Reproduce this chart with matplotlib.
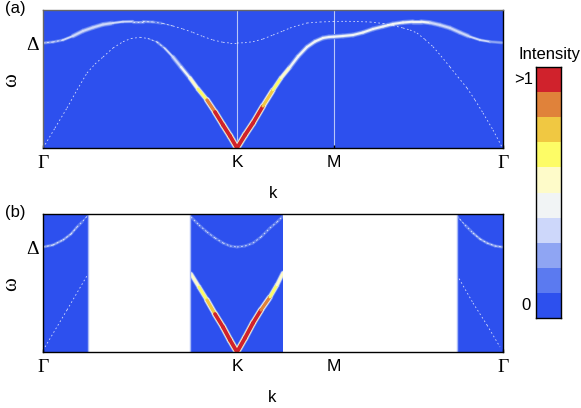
import matplotlib
matplotlib.use("Agg")
import matplotlib.pyplot as plt
import numpy as np
from matplotlib.collections import LineCollection
from matplotlib.colors import ListedColormap, BoundaryNorm

plt.rcParams['font.family'] = ['Liberation Sans', 'DejaVu Sans']

level_colors = ['#2d50ee', '#5b7af0', '#8fa5f3', '#cdd7fa', '#f1f4f5',
                '#fefbc9', '#fdfc66', '#f0c842', '#e0823a', '#d0222c']
tick_names = ['Γ', 'K', 'M', 'Γ']
tick_pos = [0, 194, 291, 460]
gap_delta = 105

# panel (a), k and w
a_up_k = [0, 10, 20, 30, 40, 50, 60, 70, 80, 90, 100, 110, 120, 130, 140, 150, 160, 170, 180, 187, 194, 202, 210, 220, 230,
          240, 247, 255, 264, 277, 290, 302, 314, 327, 340, 350, 360, 367, 374, 382, 390, 398, 407, 415, 424, 432, 440, 450, 459]
a_up_w = [105, 106, 108, 112, 117, 120.5, 123.5, 125, 126.3, 126.5, 126.5, 126, 124.5, 122, 119, 115.5, 111.5, 108, 105.7, 105, 105, 105.3, 106.3, 109, 113,
          117, 120, 122.5, 125, 126, 126.5, 126.7, 126.5, 126, 124.5, 122.5, 120, 118, 115, 108.5, 101.3, 92, 81, 71, 60, 48, 35, 18, 1]
a_up_i = [.3, .28, .3, .33, .36, .36, .36, .34, .32, .3, .26, .22, .16, .1, .08] + [.05] * 34

a_lo_k = [0, 12, 24, 34, 44, 52, 60, 70, 80, 88, 97, 105, 114, 122, 130, 138, 147, 155, 164, 172, 180, 187, 194, 202, 210, 220,
          230, 238, 247, 255, 264, 272, 280, 286, 291, 300, 310, 320, 330, 340, 350, 360, 370, 378, 387, 397, 407, 417, 427, 437, 447, 459]
a_lo_w = [0, 20, 40, 58, 75, 84, 91, 100, 106.3, 109.5, 110.7, 109.5, 106, 99.5, 91, 81, 70, 59, 48, 36, 23, 12, 0, 13, 25, 42,
          58, 70, 81, 91.5, 101, 106.5, 110, 111, 111.3, 112, 113, 115.5, 119, 121.5, 124, 125.5, 126.3, 126.3, 125.3, 123, 120, 115.5, 111.3, 108, 106.3, 105.3]
a_lo_i = [.03] * 10 + [.06, .12, .2, .27, .33, .38, .46, .56, .74, .92, 1, 1, 1, 1, 1, .84,
                       .66, .54, .47, .44, .42, .42, .42, .42, .42, .42, .4, .4, .4, .4, .4, .4, .42, .42, .4, .38, .37, .36, .34, .32, .3, .3]

# panel (b), only the allowed k windows
b_curves = [
    ([0, 10, 20, 28, 34, 40, 45], [105, 107, 112, 118, 125, 131, 137], [.25, .25, .25, .22, .2, .18, .15]),
    ([2, 24, 45], [5, 42, 78], [.03, .03, .03]),
    ([148, 156, 164, 172, 180, 187, 194, 202, 210, 218, 227, 234, 240],
     [135, 127, 120, 114, 109, 106, 105, 106, 109, 115, 124, 130, 136], [.18] * 13),
    ([148, 156, 164, 172, 180, 187, 194, 202, 210, 218, 227, 234, 240],
     [78, 65, 52, 38, 25, 12, 0, 14, 29, 42, 55, 67, 79], [.5, .6, .7, .88, 1, 1, 1, 1, 1, .88, .72, .6, .5]),
    ([414, 422, 430, 437, 444, 452, 459], [136, 127, 119, 113, 109, 106, 105], [.15, .18, .2, .22, .25, .25, .25]),
    ([414, 430, 444, 457], [77, 49, 27, 5], [.03, .03, .03, .03]),
]
b_blocked = [(45, 147), (240, 414)]
b_edges = [45, 147, 414]

cmap = ListedColormap(level_colors)
norm = BoundaryNorm(np.linspace(0, 1, 11), 10)


def draw_band(ax, k, w, inten):
    pts = np.column_stack([k, w]).astype(float).reshape(-1, 1, 2)
    segs = np.concatenate([pts[:-1], pts[1:]], axis=1)
    inten = np.array(inten)
    mid = (inten[:-1] + inten[1:]) / 2
    keep = mid > 0.06
    # soft edge, then core
    for scale, extra in [(0.3, 2.2), (0.6, 1.1), (1.0, 0.0)]:
        lc = LineCollection(segs[keep], colors=cmap(norm(mid[keep] * scale)),
                            linewidths=0.6 + mid[keep] * 2.2 + extra,
                            capstyle='round', zorder=1.8)
        ax.add_collection(lc)
    faint = mid < 0.3
    lc = LineCollection(segs[faint], colors='white', alpha=0.8,
                        linewidths=0.6, linestyles=(0, (2, 3)), zorder=1.9)
    ax.add_collection(lc)


def setup_panel(ax):
    ax.set_facecolor(level_colors[0])
    ax.set_xlim(0, 460)
    ax.set_ylim(0, 138)
    ax.set_xticks(tick_pos)
    ax.set_xticklabels(tick_names, fontsize=12.5)
    for lab, name in zip(ax.get_xticklabels(), tick_names):
        if name == 'Γ':
            lab.set_family('Liberation Serif')
            lab.set_fontsize(14)
    ax.get_xticklabels()[0].set_x(-2)
    ax.set_yticks([gap_delta])
    ax.set_yticklabels(['Δ'], fontsize=14, family='Liberation Serif')
    ax.tick_params(axis='x', direction='in', length=2, width=1, pad=5, top=False)
    ax.tick_params(axis='y', direction='in', length=2, width=1, pad=3)
    for s in ax.spines.values():
        s.set_linewidth(1.0)


W, H = 581, 408
fig = plt.figure(figsize=(W / 100, H / 100), dpi=100)

ax1 = fig.add_axes([43 / W, 1 - 148 / H, 460 / W, 138 / H])
setup_panel(ax1)
ax1.spines['top'].set_color('#666666')
ax1.spines['left'].set_color('#666666')
draw_band(ax1, a_up_k, a_up_w, a_up_i)
draw_band(ax1, a_lo_k, a_lo_w, a_lo_i)
for t in tick_pos[1:3]:
    ax1.axvline(t, color='#b8c6f8', lw=0.8, zorder=1.5)

ax2 = fig.add_axes([43 / W, 1 - 352 / H, 460 / W, 138 / H])
setup_panel(ax2)
for k, w, i in b_curves:
    draw_band(ax2, k, w, i)
for x0, x1 in b_blocked:
    ax2.axvspan(x0, x1, color='white', lw=0, zorder=2)
for x in b_edges:
    ax2.axvline(x, color='#a9baf6', lw=1.0, zorder=2.1)

# colour bar
cax = fig.add_axes([535.5 / W, 1 - 318 / H, 25.5 / W, 251 / H])
cax.pcolormesh(np.array([0, 1]), np.linspace(0, 1, 11),
               (np.arange(10).reshape(-1, 1) + 0.5) / 10, cmap=cmap, norm=norm)
cax.set_xticks([])
cax.set_yticks([])
for s in cax.spines.values():
    s.set_linewidth(1.0)


def label(x, y, s, **kw):
    fig.text(x / W, 1 - y / H, s, ha='center', va='center', **kw)


label(15, 8, '(a)', fontsize=12)
label(15, 213, '(b)', fontsize=12)
label(273, 194, 'k', fontsize=12)
label(272, 398, 'k', fontsize=12)
label(12, 80, 'ω', fontsize=15, rotation=90, family='Liberation Serif')
label(12, 284, 'ω', fontsize=15, rotation=90, family='Liberation Serif')
label(550, 55, 'Intensity', fontsize=12)
label(524, 79, '>1', fontsize=12)
label(526, 306, '0', fontsize=12)

fig.savefig('out.png', dpi=100)
